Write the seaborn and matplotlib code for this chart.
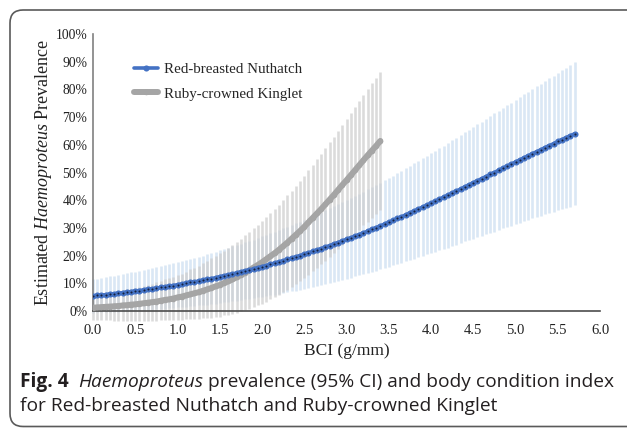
import numpy as np
import pandas as pd
import matplotlib
matplotlib.use('Agg')
import matplotlib.pyplot as plt
import seaborn as sns
from matplotlib.patches import FancyBboxPatch
from matplotlib.ticker import FuncFormatter, MultipleLocator

# BCI grid (g/mm), sampled every 0.05
nuthatch_bci = np.round(np.arange(0, 5.701, 0.05), 2)
kinglet_bci = np.round(np.arange(0, 3.401, 0.05), 2)

# estimated prevalence (%) and 95% CI half-width (%)
nuthatch_prev = [
    5.4, 5.6, 5.7, 5.9, 6.1, 6.2, 6.4, 6.6, 6.8, 7.0,
    7.2, 7.4, 7.6, 7.8, 8.0, 8.2, 8.5, 8.7, 9.0, 9.2,
    9.5, 9.7, 10.0, 10.3, 10.5, 10.8, 11.1, 11.4, 11.7, 12.0,
    12.4, 12.7, 13.0, 13.4, 13.7, 14.1, 14.5, 14.8, 15.2, 15.6,
    16.0, 16.4, 16.9, 17.3, 17.7, 18.1, 18.6, 19.1, 19.5, 20.0,
    20.5, 21.0, 21.5, 22.0, 22.5, 23.1, 23.6, 24.2, 24.7, 25.3,
    25.9, 26.4, 27.0, 27.6, 28.2, 28.8, 29.5, 30.1, 30.7, 31.4,
    32.0, 32.7, 33.4, 34.0, 34.7, 35.4, 36.1, 36.8, 37.5, 38.2,
    38.9, 39.6, 40.4, 41.1, 41.8, 42.6, 43.3, 44.0, 44.8, 45.5,
    46.3, 47.0, 47.8, 48.5, 49.3, 50.0, 50.8, 51.5, 52.3, 53.0,
    53.8, 54.5, 55.3, 56.0, 56.8, 57.5, 58.2, 59.0, 59.7, 60.4,
    61.2, 61.9, 62.6, 63.3, 64.0,
]
nuthatch_ci = [
    6.0, 6.1, 6.2, 6.3, 6.4, 6.5, 6.6, 6.7, 6.8, 6.9,
    7.0, 7.1, 7.2, 7.3, 7.5, 7.6, 7.7, 7.8, 7.9, 8.0,
    8.2, 8.3, 8.4, 8.5, 8.7, 8.8, 8.9, 9.1, 9.2, 9.3,
    9.5, 9.6, 9.7, 9.9, 10.0, 10.2, 10.3, 10.5, 10.6, 10.7,
    10.9, 11.0, 11.2, 11.4, 11.5, 11.7, 11.8, 12.0, 12.1, 12.3,
    12.5, 12.6, 12.8, 13.0, 13.1, 13.3, 13.5, 13.7, 13.8, 14.0,
    14.2, 14.4, 14.5, 14.7, 14.9, 15.1, 15.3, 15.5, 15.6, 15.8,
    16.0, 16.2, 16.4, 16.6, 16.8, 17.0, 17.2, 17.4, 17.6, 17.8,
    18.0, 18.2, 18.4, 18.6, 18.9, 19.1, 19.3, 19.5, 19.7, 19.9,
    20.2, 20.4, 20.6, 20.8, 21.0, 21.3, 21.5, 21.7, 22.0, 22.2,
    22.4, 22.7, 22.9, 23.1, 23.4, 23.6, 23.9, 24.1, 24.4, 24.6,
    24.9, 25.1, 25.3, 25.6, 25.8,
]
kinglet_prev = [
    1.2, 1.3, 1.4, 1.5, 1.6, 1.7, 1.8, 2.0, 2.1, 2.3,
    2.4, 2.6, 2.8, 3.0, 3.2, 3.4, 3.7, 4.0, 4.2, 4.5,
    4.9, 5.2, 5.6, 6.0, 6.4, 6.8, 7.3, 7.8, 8.3, 8.9,
    9.4, 10.1, 10.7, 11.4, 12.2, 13.0, 13.8, 14.7, 15.7, 16.6,
    17.6, 18.7, 19.8, 20.9, 22.1, 23.4, 24.7, 26.1, 27.5, 28.9,
    30.4, 32.0, 33.6, 35.2, 36.8, 38.5, 40.2, 41.9, 43.7, 45.5,
    47.2, 49.0, 50.8, 52.6, 54.4, 56.2, 57.9, 59.6, 61.4,
]
kinglet_ci = [
    4.4, 4.6, 4.7, 4.9, 5.0, 5.2, 5.4, 5.5, 5.7, 5.8,
    6.0, 6.2, 6.4, 6.5, 6.7, 6.9, 7.1, 7.4, 7.6, 7.8,
    8.0, 8.3, 8.6, 9.0, 9.3, 9.6, 10.0, 10.3, 10.7, 11.0,
    11.4, 11.7, 12.1, 12.4, 12.8, 13.1, 13.5, 13.8, 14.2, 14.5,
    14.9, 15.3, 15.6, 16.0, 16.3, 16.7, 17.1, 17.4, 17.8, 18.1,
    18.5, 18.9, 19.2, 19.6, 19.9, 20.3, 20.7, 21.0, 21.4, 21.7,
    22.1, 22.5, 22.8, 23.2, 23.5, 23.9, 24.3, 24.6, 25.0,
]

nut = pd.DataFrame({'bci': nuthatch_bci, 'prev': nuthatch_prev, 'ci': nuthatch_ci})
kin = pd.DataFrame({'bci': kinglet_bci, 'prev': kinglet_prev, 'ci': kinglet_ci})

sns.set_style('white')
plt.rcParams['font.family'] = ['Liberation Serif', 'DejaVu Serif']
plt.rcParams['mathtext.fontset'] = 'custom'
plt.rcParams['mathtext.rm'] = 'Liberation Serif'
plt.rcParams['mathtext.it'] = 'Liberation Serif:italic'

fig = plt.figure(figsize=(6.27, 4.28), dpi=100)
ax = fig.add_axes([93 / 627, 1 - 311 / 428, 507 / 627, 277 / 428])

# confidence intervals as thin vertical bars
ax.vlines(nut['bci'], nut['prev'] - nut['ci'], nut['prev'] + nut['ci'],
          color='#dae7f5', lw=1.9, zorder=1, clip_on=False)
ax.vlines(kin['bci'], kin['prev'] - kin['ci'], kin['prev'] + kin['ci'],
          color='#cdcdcd', lw=1.9, alpha=0.7, zorder=2, clip_on=False)

sns.lineplot(data=kin, x='bci', y='prev', ax=ax, color='#a5a5a5', lw=4.3,
             marker='o', markersize=4, markerfacecolor='#a5a5a5',
             markeredgecolor='#a5a5a5', markeredgewidth=0,
             label='Ruby-crowned Kinglet', zorder=3)
sns.lineplot(data=nut, x='bci', y='prev', ax=ax, color='#4472c4', lw=2.6,
             marker='o', markersize=4.4, markerfacecolor='#4472c4',
             markeredgecolor='#4472c4', markeredgewidth=0,
             label='Red-breasted Nuthatch', zorder=4)
# small dark centres of the nuthatch markers
ax.plot(nut['bci'], nut['prev'], ls='none', marker='o', markersize=1.5,
        markerfacecolor='#15213f', markeredgewidth=0, zorder=5)

ax.set_xlim(0, 6)
ax.set_ylim(0, 100)
ax.xaxis.set_major_locator(MultipleLocator(0.5))
ax.yaxis.set_major_locator(MultipleLocator(10))
ax.xaxis.set_major_formatter(FuncFormatter(lambda v, p: f'{v:.1f}'))
ax.yaxis.set_major_formatter(FuncFormatter(lambda v, p: f'{int(round(v))}%'))
ax.tick_params(axis='x', length=0, pad=9, labelsize=10.5, colors='#222222')
ax.tick_params(axis='y', length=0, pad=4, labelsize=9.8, colors='#222222')
ax.set_xlabel('')
ax.set_ylabel('')
for s in ['top', 'right']:
    ax.spines[s].set_visible(False)
ax.spines['left'].set_color('#808080')
ax.spines['bottom'].set_color('#4d4d4d')
ax.spines['left'].set_linewidth(1.2)
ax.spines['bottom'].set_linewidth(1.2)

handles, labels = ax.get_legend_handles_labels()
ax.legend(handles[::-1], labels[::-1], loc='upper left',
          bbox_to_anchor=(0.055, 0.945), frameon=False, fontsize=10.8,
          handlelength=1.6, handletextpad=0.4, labelspacing=0.72)

fig.text(43 / 627, 1 - 172 / 428, r'Estimated $\it{Haemoproteus}$ Prevalence',
         rotation=90, ha='center', va='center', fontsize=13, color='#222222')
fig.text(347 / 627, 1 - 351 / 428, 'BCI (g/mm)', ha='center', va='center',
         fontsize=12.5, color='#222222')

# caption with mixed styles
cap_font = ['Open Sans', 'DejaVu Sans']
renderer = fig.canvas.get_renderer()
W = fig.get_figwidth() * fig.dpi


def put(x_px, y_px, s, **kw):
    t = fig.text(x_px / W, 1 - y_px / 428, s, ha='left', va='baseline',
                 fontsize=13.8, family=cap_font, color='#231f20', **kw)
    return t.get_window_extent(renderer).x1


x = put(20, 387, 'Fig. 4', weight='bold')
x = put(x + 10, 387, 'Haemoproteus', style='italic')
put(x + 4, 387, 'prevalence (95% CI) and body condition index')
put(20, 411, 'for Red-breasted Nuthatch and Ruby-crowned Kinglet')

# rounded frame around the figure panel
frame = FancyBboxPatch((0.10, 0.015), 7.0, 4.165,
                       boxstyle='round,pad=0,rounding_size=0.13',
                       transform=fig.dpi_scale_trans, fill=False,
                       edgecolor='#5a5a5a', lw=1.2, clip_on=False)
fig.add_artist(frame)

fig.savefig('out.png', dpi=100)
